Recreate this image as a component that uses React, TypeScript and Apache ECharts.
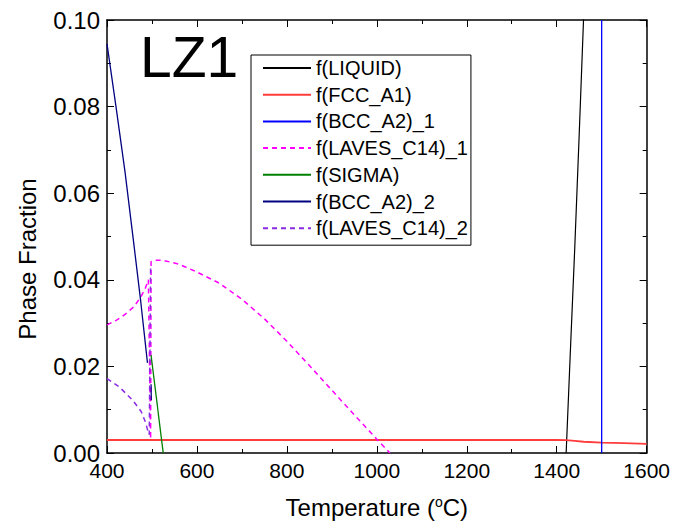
import { useEffect, useRef } from "react";
import * as echarts from "echarts";

// Temperature range / ticks
const X_MIN = 400;
const X_MAX = 1600;
const X_STEP = 200;
const Y_MIN = 0;
const Y_MAX = 0.1;
const Y_STEP = 0.02;

const seriesNames = [
  "f(LIQUID)",
  "f(FCC_A1)",
  "f(BCC_A2)_1",
  "f(LAVES_C14)_1",
  "f(SIGMA)",
  "f(BCC_A2)_2",
  "f(LAVES_C14)_2",
];

const liquid = [
  [1421, 0],
  [1430, 0.0225],
  [1440, 0.047],
  [1450, 0.0735],
  [1460, 0.101],
];

const fcc = [
  [400, 0.003],
  [600, 0.003],
  [800, 0.003],
  [1000, 0.003],
  [1200, 0.003],
  [1400, 0.003],
  [1421, 0.00297],
  [1440, 0.0028],
  [1460, 0.0026],
  [1500, 0.0024],
  [1550, 0.0023],
  [1600, 0.0021],
];

const bcc1 = [
  [1500, 0],
  [1500, 0.1],
];

const laves1 = [
  [400, 0.0296],
  [420, 0.0306],
  [440, 0.032],
  [460, 0.0338],
  [475, 0.036],
  [485, 0.038],
  [492, 0.04],
  [497, 0.0032],
  [498, 0.0442],
  [510, 0.0445],
  [525, 0.0445],
  [560, 0.0436],
  [600, 0.0418],
  [650, 0.0392],
  [700, 0.0355],
  [750, 0.031],
  [800, 0.0258],
  [850, 0.0202],
  [900, 0.0145],
  [950, 0.0088],
  [1000, 0.0032],
  [1029, 0],
];

const sigma = [
  [498, 0.0226],
  [525, 0],
];

const bcc2 = [
  [400, 0.0945],
  [420, 0.08],
  [440, 0.065],
  [460, 0.048],
  [475, 0.035],
  [490, 0.0208],
  [494, "-"],
  [498, 0.0159],
  [498.5, 0.0122],
];

const laves2 = [
  [400, 0.0172],
  [428, 0.0152],
  [457, 0.0122],
  [476, 0.0096],
  [486, 0.007],
  [490, 0.0054],
  [494, 0.0042],
  [497, 0.0435],
];

const seriesData = [liquid, fcc, bcc1, laves1, sigma, bcc2, laves2];
const seriesColors = ["#000000", "#ff3b3b", "#0000ff", "#ff00ff", "#008000", "#000080", "#8a2be2"];
const seriesDashed = [false, false, false, true, false, false, true];
const seriesWidths = [1.2, 1.8, 1.3, 1.5, 1.3, 1.3, 1.5];

const FONT = "'Liberation Sans', Arial, Helvetica, sans-serif";

export default function App() {
  const ref = useRef<HTMLDivElement>(null);

  useEffect(() => {
    if (!ref.current) return;
    const chart = echarts.init(ref.current, undefined, { renderer: "svg" });

    const axisLine = { show: true, onZero: false, lineStyle: { color: "#000", width: 1.5 } };
    const axisTick = { show: true, inside: true, length: 7, lineStyle: { color: "#000", width: 1 } };
    const minorTick = { show: true, splitNumber: 2, length: 4, lineStyle: { color: "#000", width: 1 } };

    const option: any = {
      animation: false,
      backgroundColor: "#ffffff",
      textStyle: { fontFamily: FONT },
      title: {
        text: "LZ1",
        left: 132,
        top: 20,
        padding: 0,
        textStyle: { fontSize: 57, fontWeight: "normal", color: "#000", fontFamily: FONT },
      },
      graphic: [
        {
          type: "text",
          x: 19,
          y: 251,
          rotation: Math.PI / 2,
          silent: true,
          style: {
            text: "Phase Fraction",
            fontSize: 24,
            fontFamily: FONT,
            fill: "#000",
            align: "center",
            verticalAlign: "middle",
          },
        },
      ],
      legend: {
        orient: "vertical",
        left: 243,
        top: 47,
        padding: [3, 3, 7, 11],
        borderColor: "#000",
        borderWidth: 1,
        itemWidth: 48,
        itemHeight: 14,
        itemGap: 6.7,
        selectedMode: false,
        itemStyle: { opacity: 0 },
        textStyle: { fontSize: 20, color: "#000", fontFamily: FONT, lineHeight: 20 },
        data: seriesNames,
      },
      grid: { left: 99, top: 12, width: 549, height: 446, containLabel: false },
      xAxis: [
        {
          type: "value",
          min: X_MIN,
          max: X_MAX,
          interval: X_STEP,
          axisLine,
          axisTick,
          minorTick,
          splitLine: { show: false },
          axisLabel: {
            fontSize: 21,
            color: "#000",
            fontFamily: FONT,
            margin: 7,
            formatter: (v: number) => String(v),
          },
          name: "Temperature ({sup|o}C)",
          nameLocation: "middle",
          nameGap: 42,
          nameTextStyle: {
            fontSize: 24,
            color: "#000",
            fontFamily: FONT,
            rich: { sup: { fontSize: 14, verticalAlign: "top", lineHeight: 14, fontFamily: FONT, color: "#000" } },
          },
        },
        {
          type: "value",
          position: "top",
          min: X_MIN,
          max: X_MAX,
          interval: X_STEP,
          axisLine,
          axisTick,
          minorTick,
          splitLine: { show: false },
          axisLabel: { show: false },
        },
      ],
      yAxis: [
        {
          type: "value",
          min: Y_MIN,
          max: Y_MAX,
          interval: Y_STEP,
          axisLine,
          axisTick,
          minorTick,
          splitLine: { show: false },
          axisLabel: {
            fontSize: 24,
            color: "#000",
            fontFamily: FONT,
            margin: 7,
            formatter: (v: number) => v.toFixed(2),
          },
        },
        {
          type: "value",
          position: "right",
          min: Y_MIN,
          max: Y_MAX,
          interval: Y_STEP,
          axisLine,
          axisTick,
          minorTick,
          splitLine: { show: false },
          axisLabel: { show: false },
        },
      ],
      series: seriesNames.map((name, i) => ({
        name,
        type: "line",
        xAxisIndex: 0,
        yAxisIndex: 0,
        data: seriesData[i],
        showSymbol: false,
        symbol: "none",
        clip: true,
        connectNulls: false,
        color: seriesColors[i],
        lineStyle: {
          color: seriesColors[i],
          width: seriesWidths[i],
          type: seriesDashed[i] ? [5, 4] : "solid",
        },
      })),
    };

    chart.setOption(option);
    return () => chart.dispose();
  }, []);

  return <div ref={ref} style={{ width: 665, height: 516 }} />;
}
